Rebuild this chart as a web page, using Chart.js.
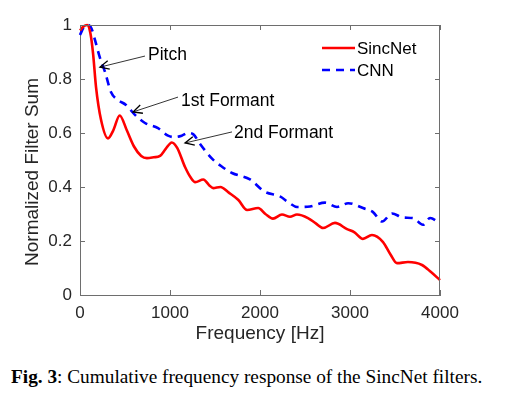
<!DOCTYPE html>
<html>
<head>
<meta charset="utf-8">
<script src="https://cdn.jsdelivr.net/npm/chart.js@4/dist/chart.umd.min.js"></script>
<style>
  body { margin: 0; background: #fff; }
  #wrap { position: relative; width: 505px; height: 394px; }
  #caption {
    position: absolute; left: 11px; top: 365px;
    font-family: "Liberation Serif", "Times New Roman", serif;
    font-size: 19.3px; line-height: 24px; color: #000; white-space: nowrap;
  }
</style>
</head>
<body>
<div id="wrap">
  <canvas id="filterChart" width="505" height="350"></canvas>
  <div id="caption"><b>Fig. 3</b>: Cumulative frequency response of the SincNet filters.</div>
</div>
<script>
// Values
const sincFreq = [0, 40, 80, 115, 145, 178, 233, 311, 370, 441, 520, 600, 680, 744, 820, 889, 950, 1020, 1080, 1167, 1230, 1280, 1370, 1440, 1480, 1560, 1650, 1760, 1856, 1980, 2060, 2144, 2244, 2333, 2411, 2533, 2620, 2700, 2833, 2967, 3050, 3144, 3244, 3367, 3450, 3522, 3644, 3800, 3900, 4000];
const sincNet  = [0.98, 0.995, 1.0, 0.97, 0.895, 0.77, 0.65, 0.58, 0.61, 0.665, 0.61, 0.55, 0.515, 0.507, 0.51, 0.515, 0.54, 0.565, 0.545, 0.474, 0.435, 0.418, 0.428, 0.405, 0.396, 0.40, 0.38, 0.352, 0.315, 0.322, 0.30, 0.283, 0.298, 0.29, 0.298, 0.285, 0.265, 0.248, 0.267, 0.244, 0.232, 0.208, 0.222, 0.196, 0.15, 0.118, 0.122, 0.111, 0.085, 0.055];

const cnnFreq = [0, 40, 90, 130, 167, 222, 278, 344, 422, 511, 611, 722, 867, 978, 1050, 1130, 1200, 1260, 1333, 1467, 1578, 1689, 1889, 2050, 2222, 2330, 2411, 2556, 2722, 2856, 2980, 3144, 3256, 3356, 3467, 3589, 3700, 3811, 3889, 4000];
const cnn     = [0.963, 0.99, 1.0, 0.985, 0.944, 0.878, 0.826, 0.752, 0.722, 0.704, 0.667, 0.637, 0.618, 0.59, 0.585, 0.59, 0.6, 0.595, 0.56, 0.505, 0.475, 0.452, 0.428, 0.383, 0.365, 0.34, 0.326, 0.328, 0.342, 0.326, 0.34, 0.322, 0.307, 0.272, 0.302, 0.287, 0.285, 0.26, 0.285, 0.265];

const xTicks = [0, 1000, 2000, 3000, 4000];
const yTicks = [0, 0.2, 0.4, 0.6, 0.8, 1];

// Annotations: text anchor and arrow (tail -> head), in data units
const notes = [
    { text: 'Pitch',       tx: 756,  ty: 0.889, fromX: 722,  fromY: 0.885, toX: 222,  toY: 0.844 },
    { text: '1st Formant', tx: 1122, ty: 0.719, fromX: 1089, fromY: 0.733, toX: 589,  toY: 0.678 },
    { text: '2nd Formant', tx: 1711, ty: 0.600, fromX: 1689, fromY: 0.604, toX: 1167, toY: 0.563 }
];

const axisColor = '#262626';
const boxColor = '#6e6e6e';
const sans = '"Liberation Sans", Arial, Helvetica, sans-serif';

function toPoints(xs, ys) {
    return xs.map((x, i) => ({ x: x, y: ys[i] }));
}

// Box, inward ticks, y title, legend and annotations (MATLAB look)
const matlabDecor = {
    id: 'matlabDecor',
    afterDatasetsDraw(chart) {
        const { ctx, chartArea: a, scales: { x, y } } = chart;
        ctx.save();
        ctx.strokeStyle = boxColor;
        ctx.lineWidth = 1;
        ctx.beginPath();
        ctx.moveTo(a.left, a.top + 0.5); ctx.lineTo(a.right, a.top + 0.5);
        ctx.moveTo(a.right - 0.5, a.top); ctx.lineTo(a.right - 0.5, a.bottom);
        const tl = 5;
        xTicks.forEach(v => {
            const px = Math.round(x.getPixelForValue(v)) + 0.5;
            ctx.moveTo(px, a.bottom); ctx.lineTo(px, a.bottom - tl);
            ctx.moveTo(px, a.top); ctx.lineTo(px, a.top + tl);
        });
        yTicks.forEach(v => {
            const py = Math.round(y.getPixelForValue(v)) + 0.5;
            ctx.moveTo(a.left, py); ctx.lineTo(a.left + tl, py);
            ctx.moveTo(a.right, py); ctx.lineTo(a.right - tl, py);
        });
        ctx.stroke();

        // y axis title
        ctx.fillStyle = axisColor;
        ctx.font = '19px ' + sans;
        ctx.textAlign = 'center';
        ctx.textBaseline = 'middle';
        ctx.translate(33, 172);
        ctx.rotate(-Math.PI / 2);
        ctx.fillText('Normalized Filter Sum', 0, 0);
        ctx.setTransform(1, 0, 0, 1, 0, 0);

        // legend
        ctx.font = '17px ' + sans;
        ctx.textAlign = 'left';
        ctx.fillStyle = '#000';
        chart.data.datasets.forEach((ds, i) => {
            const ly = 48 + i * 22;
            ctx.strokeStyle = ds.borderColor;
            ctx.lineWidth = ds.borderWidth;
            ctx.setLineDash(ds.borderDash || []);
            ctx.beginPath();
            ctx.moveTo(322, ly); ctx.lineTo(355, ly);
            ctx.stroke();
            ctx.setLineDash([]);
            ctx.fillText(ds.label, 357, ly + 1);
        });

        // annotations
        ctx.strokeStyle = '#000';
        ctx.fillStyle = '#000';
        ctx.font = '17.5px ' + sans;
        ctx.lineWidth = 0.8;
        notes.forEach(n => {
            const x0 = x.getPixelForValue(n.fromX), y0 = y.getPixelForValue(n.fromY);
            const x1 = x.getPixelForValue(n.toX), y1 = y.getPixelForValue(n.toY);
            const ang = Math.atan2(y0 - y1, x0 - x1);
            ctx.beginPath();
            ctx.moveTo(x0, y0); ctx.lineTo(x1, y1);
            ctx.stroke();
            ctx.lineWidth = 1.3;
            ctx.beginPath();
            ctx.moveTo(x1 + 10 * Math.cos(ang - 0.45), y1 + 10 * Math.sin(ang - 0.45));
            ctx.lineTo(x1, y1);
            ctx.lineTo(x1 + 10 * Math.cos(ang + 0.45), y1 + 10 * Math.sin(ang + 0.45));
            ctx.stroke();
            ctx.lineWidth = 0.8;
            ctx.fillText(n.text, x.getPixelForValue(n.tx), y.getPixelForValue(n.ty));
        });
        ctx.restore();
    }
};

const ctx = document.getElementById('filterChart').getContext('2d');
const filterChart = new Chart(ctx, {
    type: 'line',
    data: {
        datasets: [{
            label: 'SincNet',
            data: toPoints(sincFreq, sincNet),
            borderColor: '#ff0000',
            borderWidth: 2.6,
            cubicInterpolationMode: 'monotone',
            pointRadius: 0,
            fill: false,
            clip: false
        }, {
            label: 'CNN',
            data: toPoints(cnnFreq, cnn),
            borderColor: '#0000ff',
            borderWidth: 2.6,
            borderDash: [8, 6],
            cubicInterpolationMode: 'monotone',
            pointRadius: 0,
            fill: false,
            clip: false
        }]
    },
    options: {
        responsive: false,
        animation: false,
        devicePixelRatio: 1,
        layout: { padding: { left: 22, top: 25, right: 65, bottom: 5 } },
        plugins: {
            legend: { display: false },
            tooltip: { enabled: false }
        },
        scales: {
            x: {
                type: 'linear',
                min: 0,
                max: 4000,
                afterFit: s => { s.height = 50; },
                afterBuildTicks: s => { s.ticks = xTicks.map(v => ({ value: v })); },
                ticks: {
                    padding: 8,
                    color: axisColor,
                    font: { family: sans, size: 17 },
                    callback: v => String(v),
                    maxRotation: 0
                },
                grid: { display: false, drawTicks: false },
                border: { display: true, color: boxColor, width: 1 },
                title: {
                    display: true,
                    text: 'Frequency [Hz]',
                    color: axisColor,
                    font: { family: sans, size: 19 },
                    padding: { top: 0, bottom: 0 }
                }
            },
            y: {
                type: 'linear',
                min: 0,
                max: 1,
                afterFit: s => { s.width = 58; },
                afterBuildTicks: s => { s.ticks = yTicks.map(v => ({ value: v })); },
                ticks: {
                    padding: 8,
                    color: axisColor,
                    font: { family: sans, size: 17 },
                    callback: v => String(Math.round(v * 10) / 10)
                },
                grid: { display: false, drawTicks: false },
                border: { display: true, color: boxColor, width: 1 }
            }
        }
    },
    plugins: [matlabDecor]
});
</script>
</body>
</html>
